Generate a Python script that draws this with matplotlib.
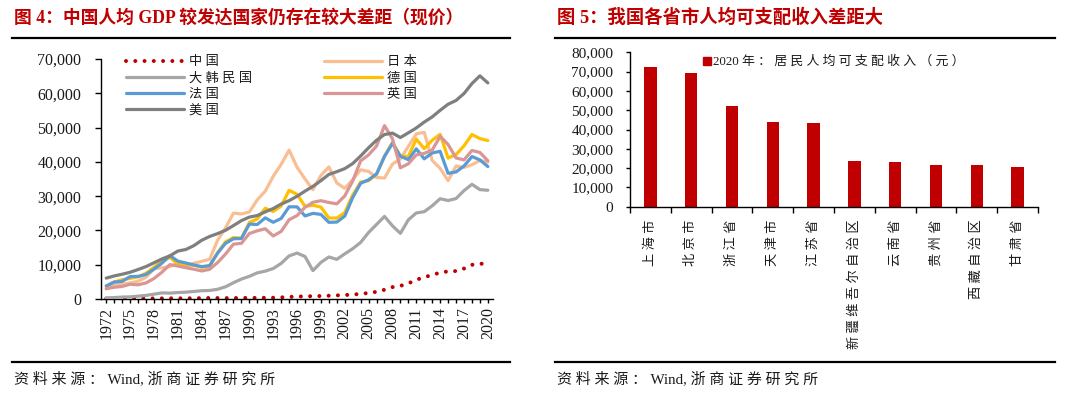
import matplotlib
matplotlib.use('Agg')
import matplotlib.pyplot as plt
from matplotlib.lines import Line2D
from matplotlib.ticker import FixedLocator, FuncFormatter
import numpy as np

# ---------------- data ----------------
years = list(range(1972, 2021))
china = [132, 157, 160, 178, 165, 185, 156, 183, 195, 197, 203, 225, 250, 294, 281, 252,
         284, 311, 318, 333, 366, 377, 473, 610, 709, 782, 829, 873, 959, 1053, 1149, 1289,
         1509, 1753, 2099, 2694, 3468, 3832, 4550, 5618, 6317, 7051, 7679, 8067, 8148, 8879,
         9977, 10217, 10500]
japan = [2950, 3998, 4354, 4659, 5197, 6335, 8821, 9105, 9463, 10361, 9578, 10425, 10984,
         11585, 17112, 20745, 25051, 24813, 25371, 28925, 31465, 35766, 39269, 43440, 38437,
         35022, 31903, 36027, 38532, 33846, 32289, 34808, 37688, 37218, 35434, 35275, 39339,
         40855, 44508, 48168, 48603, 40454, 38109, 34524, 38794, 38387, 39159, 40416, 39918]
korea = [324, 407, 563, 616, 834, 1055, 1405, 1784, 1715, 1883, 1992, 2199, 2413, 2482, 2835,
         3555, 4749, 5817, 6610, 7637, 8127, 8886, 10385, 12565, 13403, 12398, 8282, 10672,
         12257, 11561, 13165, 14673, 16496, 19403, 21743, 24086, 21350, 19144, 23087, 25096,
         25467, 27178, 29242, 28724, 29287, 31605, 33447, 31902, 31721]
germany = [3766, 4974, 5626, 6027, 6457, 7509, 9255, 11028, 12139, 10209, 9914, 9866, 9256,
           9430, 13460, 16678, 17916, 17764, 22304, 23357, 26460, 25520, 27114, 31686, 30533,
           27049, 27341, 26796, 23636, 23608, 25197, 30310, 34107, 34520, 36354, 41640, 45613,
           41732, 41572, 46645, 43856, 46299, 48024, 41103, 42136, 44653, 47974, 46801, 46216]
france = [3820, 4934, 5153, 6533, 6587, 7132, 8719, 10437, 12669, 11051, 10501, 9941, 9433,
          9758, 13373, 16229, 17568, 17629, 21834, 21738, 23669, 22377, 23495, 26890, 26872,
          24229, 24975, 24673, 22364, 22434, 24176, 29569, 33741, 34760, 36470, 41575, 45413,
          41631, 40638, 43791, 40875, 42603, 43069, 36653, 37063, 38781, 41558, 40579, 38625]
uk = [3030, 3426, 3666, 4300, 4139, 4682, 5977, 7805, 10032, 9599, 9146, 8692, 8179, 8652,
      10611, 13118, 15987, 16239, 19095, 19901, 20487, 18389, 19710, 23123, 24332, 26734,
      28214, 28670, 28150, 27744, 30057, 34420, 40291, 42030, 44599, 50566, 46768, 38262,
      39436, 42039, 42463, 43426, 47440, 45071, 41146, 40572, 43306, 42747, 40318]
usa = [6094, 6726, 7226, 7801, 8592, 9453, 10565, 11674, 12575, 13976, 14434, 15544, 17121,
       18237, 19071, 20039, 21417, 22857, 23889, 24342, 25419, 26387, 27695, 28691, 29968,
       31459, 32854, 34515, 36330, 37134, 38023, 39496, 41713, 44115, 46299, 47976, 48383,
       47100, 48467, 49883, 51603, 53107, 55033, 56803, 57904, 59928, 62823, 65095, 63028]
series_names = ['中国', '日本', '大韩民国', '德国', '法国', '英国', '美国']
left_yticks = [0, 10000, 20000, 30000, 40000, 50000, 60000, 70000]
left_xlabels = [str(y) for y in range(1972, 2021, 3)]

provinces = ['上海市', '北京市', '浙江省', '天津市', '江苏省', '新疆维吾尔自治区',
             '云南省', '贵州省', '西藏自治区', '甘肃省']
income = [72232, 69434, 52397, 43854, 43390, 23845, 23295, 21795, 21744, 20335]
right_yticks = [0, 10000, 20000, 30000, 40000, 50000, 60000, 70000, 80000]
bar_label = '2020年：居民人均可支配收入（元）'

title_left = '图 4：中国人均 GDP 较发达国家仍存在较大差距（现价）'
title_right = '图 5：我国各省市人均可支配收入差距大'
source_text = '资料来源：Wind, 浙商证券研究所'

# ---------------- helpers ----------------
W, H = 1080, 394
fig = plt.figure(figsize=(W / 100, H / 100), dpi=100)
fig.patch.set_facecolor('white')

def fx(px):
    return px / W

def fy(py):
    return 1 - py / H

FAM = ['Liberation Serif', 'Noto Sans CJK SC']
RED = '#C00000'
TXT = '#1a1a1a'

def spaced(s):
    out = ''
    for i, ch in enumerate(s):
        out += ch
        if i < len(s) - 1:
            nxt = s[i + 1]
            if ch != ' ' and nxt != ' ' and (ord(ch) > 127 or ord(nxt) > 127):
                out += ' '
    return out

thousands = FuncFormatter(lambda v, p: f'{int(v):,}')

# ---------------- left chart ----------------
axL = fig.add_axes([fx(100.7), fy(299), (493 - 100.7) / W, (299 - 59) / H])
colors = {'中国': '#C00000', '日本': '#F9BF93', '大韩民国': '#A6A6A6', '德国': '#FFC000',
          '法国': '#5B9BD5', '英国': '#D99694', '美国': '#7F7F7F'}
data = {'中国': china, '日本': japan, '大韩民国': korea, '德国': germany,
        '法国': france, '英国': uk, '美国': usa}
handles = {}
for name in series_names:
    if name == '中国':
        ln, = axL.plot(years, data[name], color=colors[name], lw=2.9,
                       linestyle=(0, (0.001, 2.3)), dash_capstyle='round', zorder=2)
    else:
        ln, = axL.plot(years, data[name], color=colors[name], lw=2.3,
                       solid_joinstyle='round', solid_capstyle='round', zorder=3)
    handles[name] = ln

axL.set_xlim(1971.3, 2020.65)
axL.set_ylim(0, 70000)
axL.yaxis.set_major_locator(FixedLocator(left_yticks))
axL.yaxis.set_major_formatter(thousands)
axL.xaxis.set_major_locator(FixedLocator(years))
axL.set_xticklabels([str(y) if str(y) in left_xlabels else '' for y in years],
                    rotation=90, fontsize=11.5, family=FAM, color=TXT)
for lab in axL.get_yticklabels():
    lab.set_fontsize(11.5)
    lab.set_family(FAM)
    lab.set_color(TXT)
axL.tick_params(axis='y', direction='out', length=4, width=1, pad=10)
axL.tick_params(axis='x', direction='out', length=3, width=1, pad=3)
for s in ['top', 'right']:
    axL.spines[s].set_visible(False)
for s in ['left', 'bottom']:
    axL.spines[s].set_linewidth(1.0)

order = ['中国', '大韩民国', '法国', '美国', '日本', '德国', '英国']
legL = axL.legend([handles[n] for n in order], [spaced(n) for n in order], ncol=2,
                  loc='upper left', bbox_to_anchor=(fx(126), fy(56)),
                  bbox_transform=fig.transFigure, frameon=False,
                  prop={'family': FAM, 'size': 9.5}, handlelength=4.4,
                  handletextpad=0.35, columnspacing=5.5, labelspacing=0.3,
                  borderpad=0, borderaxespad=0)
for t in legL.get_texts():
    t.set_color(TXT)

# ---------------- right chart ----------------
axR = fig.add_axes([fx(630), fy(206.7), (1038 - 630) / W, (206.7 - 52.3) / H])
xpos = np.arange(len(provinces))
bars = axR.bar(xpos, income, width=0.3, color=RED, zorder=2)
axR.set_xlim(-0.5, len(provinces) - 0.5)
axR.set_ylim(0, 80000)
axR.yaxis.set_major_locator(FixedLocator(right_yticks))
axR.yaxis.set_major_formatter(thousands)
for lab in axR.get_yticklabels():
    lab.set_fontsize(11)
    lab.set_family(FAM)
    lab.set_color(TXT)
axR.set_xticks(xpos)
axR.set_xticklabels([spaced(p) for p in provinces], rotation=90, va='top',
                    fontsize=9.5, family=FAM, color=TXT)
axR.set_xticks(np.arange(-0.5, len(provinces)), minor=True)
axR.tick_params(axis='x', which='major', length=0, pad=9)
axR.tick_params(axis='x', which='minor', direction='out', length=4, width=1)
axR.tick_params(axis='y', direction='out', length=3, width=1, pad=9)
for s in ['top', 'right']:
    axR.spines[s].set_visible(False)
for s in ['left', 'bottom']:
    axR.spines[s].set_linewidth(1.0)

sq = Line2D([], [], marker='s', color=RED, linestyle='none', markersize=6)
legR = axR.legend([sq], [spaced(bar_label)], loc='center left',
                  bbox_to_anchor=(fx(703), fy(62)), bbox_transform=fig.transFigure,
                  frameon=False, prop={'family': FAM, 'size': 9.3}, handlelength=0.6,
                  handletextpad=0.15, borderpad=0, borderaxespad=0)
for t in legR.get_texts():
    t.set_color(TXT)

# ---------------- titles, rules, sources ----------------
fig.text(fx(14), fy(18), title_left, ha='left', va='center', fontsize=12.8,
         fontweight='bold', color=RED, family=FAM)
fig.text(fx(557), fy(18), title_right, ha='left', va='center', fontsize=13.2,
         fontweight='bold', color=RED, family=FAM)
for (x0, x1) in [(12, 510), (555, 1055)]:
    fig.add_artist(Line2D([fx(x0), fx(x1)], [fy(37.5), fy(37.5)], color='black', lw=1.6))
    fig.add_artist(Line2D([fx(x0), fx(x1)], [fy(362), fy(362)], color='black', lw=1.6))
fig.text(fx(14), fy(379), spaced(source_text), ha='left', va='center', fontsize=10.8,
         color=TXT, family=FAM)
fig.text(fx(557), fy(379), spaced(source_text), ha='left', va='center', fontsize=10.8,
         color=TXT, family=FAM)

fig.savefig('out.png', dpi=100, facecolor='white')
